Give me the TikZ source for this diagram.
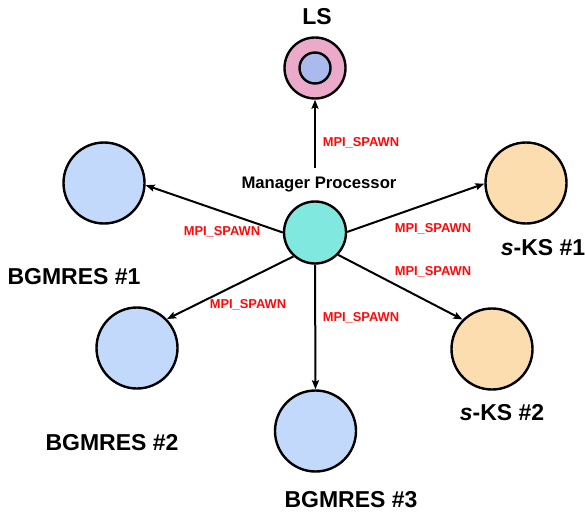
\documentclass[tikz,border=0pt]{standalone}
\usepackage{fontspec}
\setmainfont{Liberation Sans}
\usetikzlibrary{arrows.meta}
\definecolor{bgblue}{RGB}{194,217,251}
\definecolor{peach}{RGB}{252,221,176}
\definecolor{teal}{RGB}{128,232,222}
\definecolor{pinkls}{RGB}{236,170,202}
\definecolor{lavender}{RGB}{170,186,236}
\definecolor{spawnred}{RGB}{255,10,10}
\begin{document}
\begin{tikzpicture}[x=1pt,y=-1pt,
  proc/.style={circle,draw=black,line width=2.4pt,inner sep=0pt,minimum size=#1},
  biglabel/.style={font=\fontsize{23}{25}\selectfont\bfseries,inner sep=0pt},
  spawn/.style={font=\fontsize{12.9}{14}\selectfont\bfseries,text=spawnred,inner sep=0pt},
  arr/.style={line width=2pt,-{Stealth[length=9pt,width=7pt,inset=1.5pt]}}]
\useasboundingbox (0,0) rectangle (585,513);
% nodes
\node[proc=61pt,fill=pinkls] (ls) at (315,68) {};
\node[proc=31pt,fill=lavender] (lsin) at (315,68) {};
\node[biglabel] (lslab) at (317,17) {LS};
\node[proc=62pt,fill=teal] (mgr) at (315,232.5) {};
\node[font=\fontsize{16.7}{18}\selectfont\bfseries,inner sep=0pt] (mgrlab) at (319,185) {Manager Processor};
\coordinate (lsfoot) at (315,168);
\node[proc=81pt,fill=bgblue] (bg1) at (104,183) {};
\node[biglabel] (bg1lab) at (74,277) {BGMRES \#1};
\node[proc=81pt,fill=bgblue] (bg2) at (137,348) {};
\node[biglabel] (bg2lab) at (112,443) {BGMRES \#2};
\node[proc=81pt,fill=bgblue] (bg3) at (315.5,431) {};
\node[biglabel] (bg3lab) at (351,500) {BGMRES \#3};
\node[proc=81pt,fill=peach] (sk1) at (526,183) {};
\node[biglabel] (sk1lab) at (543,248) {\textit{s}-KS \#1};
\node[proc=81pt,fill=peach] (sk2) at (492,349) {};
\node[biglabel] (sk2lab) at (502,413) {\textit{s}-KS \#2};
% connectors
\draw[arr] (lsfoot) -- (ls.south);
\draw[arr] (mgr.180) -- (bg1.-3);
\draw[arr] (mgr.-132) -- (bg2.44);
\draw[arr] (mgr.south) -- (bg3.north);
\draw[arr] (mgr.1) -- (sk1.181);
\draw[arr] (mgr.-44) -- (sk2.135);
% labels
\node[spawn] (s1) at (361,143) {MPI\_SPAWN};
\node[spawn] (s2) at (222,232) {MPI\_SPAWN};
\node[spawn] (s3) at (248,305) {MPI\_SPAWN};
\node[spawn] (s4) at (361,318) {MPI\_SPAWN};
\node[spawn] (s5) at (433,229) {MPI\_SPAWN};
\node[spawn] (s6) at (433,272) {MPI\_SPAWN};
\end{tikzpicture}
\end{document}
